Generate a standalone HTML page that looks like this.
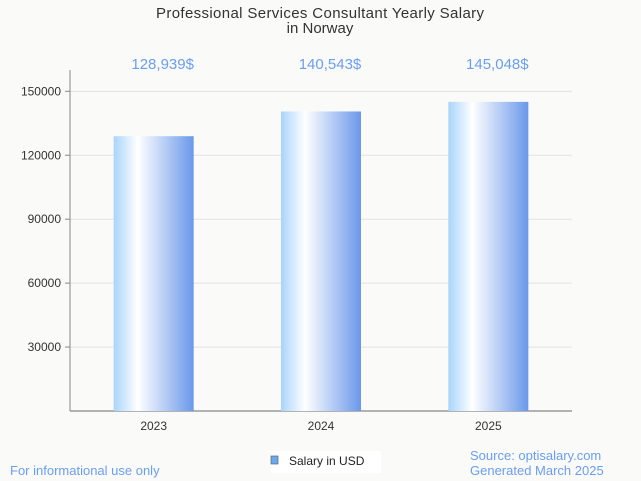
<!DOCTYPE html>
<html><head><meta charset="utf-8"><style>
body{margin:0;background:#fafaf8;width:641px;height:481px;overflow:hidden;font-family:"Liberation Sans",sans-serif}
</style></head><body>
<svg id="c" width="641" height="481" style="position:absolute;left:0;top:0">
<defs><linearGradient id="g" x1="0" x2="1" y1="0" y2="0">
<stop offset="0" stop-color="#a8d4fb"/><stop offset="0.3" stop-color="#ffffff"/><stop offset="1" stop-color="#6a98ea"/></linearGradient></defs>
<text x="320" y="18" text-anchor="middle" font-size="15" fill="#333" textLength="328">Professional Services Consultant Yearly Salary</text>
<text x="320" y="33" text-anchor="middle" font-size="15" fill="#333">in Norway</text>
<g id="grid"></g><g id="bars"></g>
<rect x="271" y="451" width="110" height="22" fill="#fff"/>
<rect x="271" y="456" width="7" height="8" fill="#6aa8f0" stroke="#666" stroke-width="0.7"/>
<text x="289" y="465" font-size="12" fill="#222">Salary in USD</text>
<text x="10" y="475" font-size="13" fill="#6a9ef0">For informational use only</text>
<text x="470" y="460" font-size="13" fill="#6a9ef0">Source: optisalary.com</text>
<text x="470" y="475" font-size="13" fill="#6a9ef0">Generated March 2025</text>
</svg>
<script>
const categories=["2023","2024","2025"];
const values=[128939,140543,145048];
const valueLabels=["128,939$","140,543$","145,048$"];
const ticks=[30000,60000,90000,120000,150000];
const L=70,R=572,T=70,B=411,MAX=160000;
const y=v=>B-(v/MAX)*(B-T);
const bw=(R-L)/categories.length;
const xc=i=>L+bw*(i+0.5);
const NS="http://www.w3.org/2000/svg";
function mk(tag,a,p){const e=document.createElementNS(NS,tag);for(const k in a)e.setAttribute(k,a[k]);p.appendChild(e);return e;}
const grid=document.getElementById('grid'),bars=document.getElementById('bars');
ticks.forEach(t=>{
 const l=mk('line',{x1:L,x2:R,y1:y(t),y2:y(t),stroke:'#e2e2e2'},grid);
 
 
 const k=mk('line',{x1:L-5,x2:L,y1:y(t),y2:y(t),stroke:'#888'},grid);
 
 
 const tx=mk('text',{x:L-9,y:y(t)+4,'text-anchor':'end','font-size':12,fill:'#333'},grid);tx.textContent=t;
 
 
});
const ya=mk('line',{x1:L,x2:L,y1:T,y2:B,stroke:'#888'},grid);


const xa=mk('line',{x1:L,x2:R,y1:B,y2:B,stroke:'#888','stroke-width':1.3},grid);


categories.forEach((c,i)=>{
 const b=mk('rect',{x:xc(i)-40,y:y(values[i]),width:80,height:B-y(values[i]),fill:'url(#g)'},bars);
 
 
 const vl=mk('text',{x:xc(i)+9,y:69,'text-anchor':'middle','font-size':15,fill:'#6a9ef0'},bars);vl.textContent=valueLabels[i];
 
 
 const xl=mk('text',{x:xc(i),y:430,'text-anchor':'middle','font-size':12,fill:'#333'},bars);xl.textContent=c;
 
 
});
</script>
</body></html>
